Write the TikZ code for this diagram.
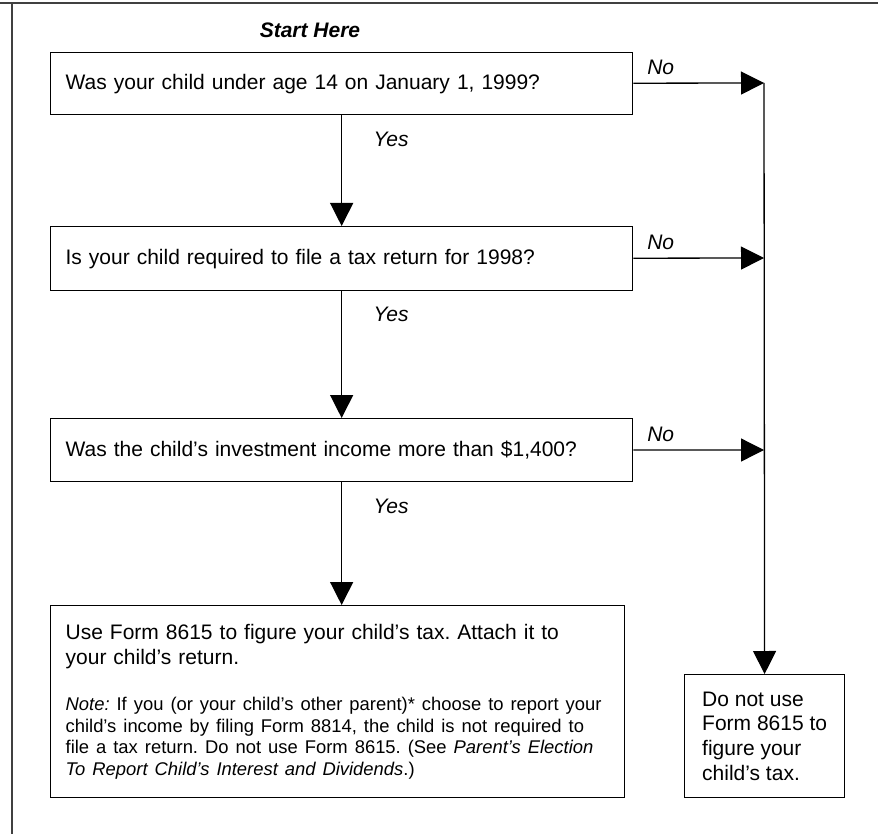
\documentclass[tikz,border=0pt]{standalone}
\usepackage{fontspec}
\setmainfont{Liberation Sans}
\usetikzlibrary{arrows.meta}
\newcommand{\mainsize}{\fontsize{21}{24.8}\selectfont}
\newcommand{\notesize}{\fontsize{18.4}{21.5}\selectfont}

\begin{document}
\begin{tikzpicture}[x=1pt,y=-1pt,line width=1.3pt,
    >={Triangle[length=23pt,width=23pt]},
    qbox/.style={draw,anchor=north west,minimum width=582pt,text width=552pt,inner xsep=15pt,align=left,font=\mainsize},
    ans/.style={font=\mainsize\itshape}]
          \useasboundingbox (0,0) rectangle (878,834);
          % frame
          \draw[black!75,line width=2pt] (0,3) -- (878,3);
          \draw[black!75,line width=2pt] (12,3) -- (12,834);

          \node[font=\mainsize\bfseries\itshape] (start) at (310,30) {Start Here};

          \node[qbox,minimum height=62pt] (q_1) at (50,52) {Was your child under age 14 on January 1, 1999?};
          \node[qbox,minimum height=64pt] (q_2) at (50,226) {Is your child required to file a tax return for 1998?};
          \node[qbox,minimum height=63pt] (q_3) at (50,418) {Was the child's investment income more than \$1,400?};

          \node[draw,anchor=north west,minimum width=574pt,minimum height=192pt,text width=544pt,inner xsep=15pt,align=left,font=\mainsize\frenchspacing] (use) at (50,605)
            {Use Form 8615 to figure your child's tax. Attach it to\\your child's return.\par\vspace{25pt}%
             \notesize\frenchspacing\textit{Note:} If you (or your child's other parent)* choose to report your\\child's income by filing Form 8814, the child is not required to\\file a tax return. Do not use Form 8615. (See \textit{Parent's Election}\\\textit{To Report Child's Interest and Dividends}.)\par};
          \node[draw,anchor=north west,minimum width=160pt,minimum height=123pt,align=left,font=\mainsize] (dont) at (684,674)
            {Do not use\\Form 8615 to\\figure your\\child's tax.};

          \coordinate (n_1) at (764,83);
          \coordinate (n_2) at (764,258);
          \coordinate (n_3) at (764,450);

          \draw[->] (q_1) -- node[ans,pos=0.21,above=4pt] {No} (n_1);
          \draw[->] (q_2) -- node[ans,pos=0.21,above=4pt] {No} (n_2);
          \draw[->] (q_3) -- node[ans,pos=0.21,above=4pt] {No} (n_3);
          \draw[->] (n_1) -- (dont);

          \draw[->] (q_1) -- node[ans,pos=0.22,right=28pt] {Yes} (q_2);
          \draw[->] (q_2) -- node[ans,pos=0.18,right=28pt] {Yes} (q_3);
          \draw[->] (q_3.south) -- node[ans,pos=0.2,right=28pt] {Yes} (q_3.south |- use.north);
        \end{tikzpicture}
\end{document}
